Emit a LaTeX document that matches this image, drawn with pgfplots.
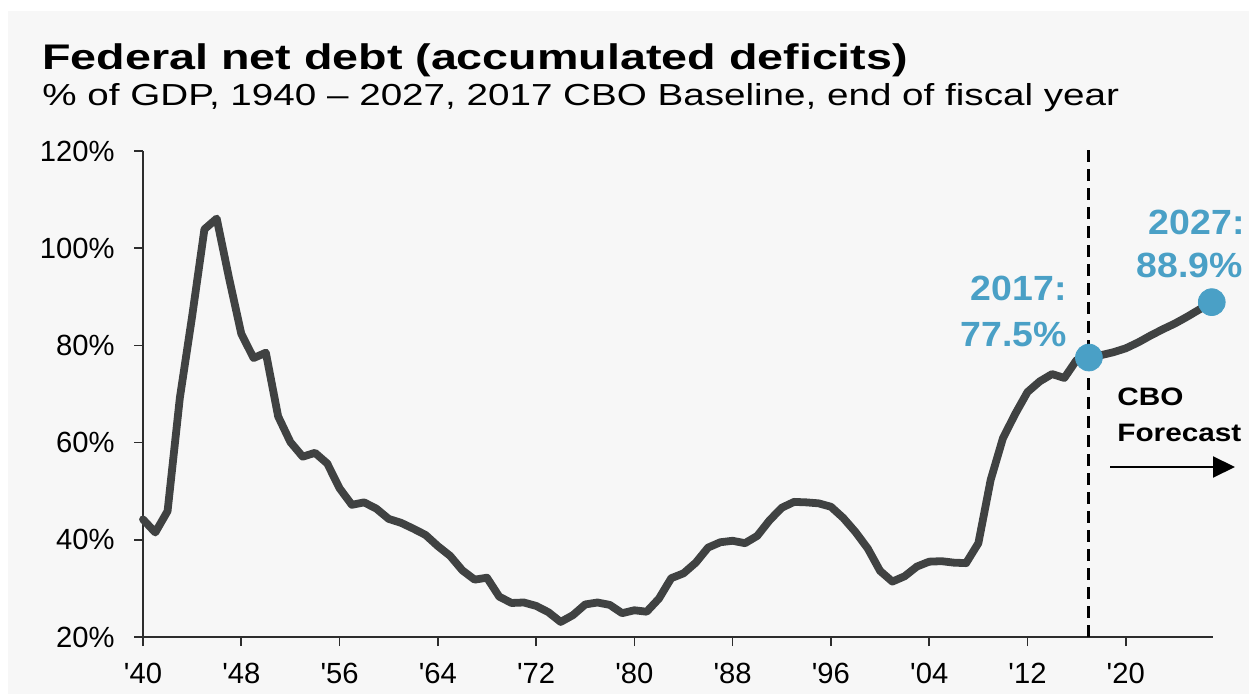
\documentclass[border=0pt]{standalone}
\usepackage{pgfplots}
\pgfplotsset{compat=1.18}
\usetikzlibrary{arrows.meta}
\usepackage{graphicx}
\usepackage{fontspec}
\setmainfont{Liberation Sans}
\definecolor{bgc}{RGB}{247,247,247}
\definecolor{linec}{RGB}{64,66,66}
\definecolor{dotc}{RGB}{74,160,198}
\definecolor{axc}{RGB}{45,45,45}
\begin{document}
\begin{tikzpicture}
\path[use as bounding box] (0,0) rectangle (624.5bp,347bp);
\fill[white] (0,0) rectangle (624.5bp,347bp);
\fill[bgc] (4bp,0) rectangle (624.5bp,341.5bp);
\node[anchor=base west, inner sep=0pt] at (21bp,312bp)
  {\scalebox{1.31}[1]{\fontsize{17.8bp}{20bp}\selectfont\bfseries Federal net debt (accumulated deficits)}};
\node[anchor=base west, inner sep=0pt] at (21bp,294bp)
  {\scalebox{1.27}[1]{\fontsize{15.2bp}{18bp}\selectfont \% of GDP, 1940 -- 2027, 2017 CBO Baseline, end of fiscal year}};
\begin{axis}[
  at={(71.5bp,28.5bp)}, anchor=south west,
  scale only axis, width=535bp, height=243bp,
  xmin=1940, xmax=2027.1, ymin=20, ymax=120,
  axis lines=left,
  x axis line style={-, axc, line width=0.9bp},
  y axis line style={-, axc, line width=0.7bp},
  tick align=outside, major tick length=4.5bp,
  tick style={axc, line width=0.8bp},
  xtick={1940,1948,1956,1964,1972,1980,1988,1996,2004,2012,2020},
  xticklabels={\textquotesingle40,\textquotesingle48,\textquotesingle56,\textquotesingle64,\textquotesingle72,\textquotesingle80,\textquotesingle88,\textquotesingle96,\textquotesingle04,\textquotesingle12,\textquotesingle20},
  ytick={20,40,60,80,100,120},
  yticklabels={20\%,40\%,60\%,80\%,100\%,120\%},
  xticklabel style={font=\fontsize{14.6bp}{16bp}\selectfont, inner sep=0pt, anchor=north, yshift=-8.5bp},
  yticklabel style={font=\fontsize{14.6bp}{16bp}\selectfont, inner sep=0pt, anchor=east, xshift=-9.5bp},
  clip=false,
]
\addplot[linec, line width=3.9bp, line join=round, line cap=round] coordinates {
(1940,44.2) (1941,41.5) (1942,45.9) (1943,69.2) (1944,86.0) (1945,103.9) (1946,106.1)
(1947,93.9) (1948,82.4) (1949,77.4) (1950,78.5) (1951,65.4) (1952,60.1) (1953,57.1)
(1954,57.9) (1955,55.7) (1956,50.6) (1957,47.2) (1958,47.7) (1959,46.4) (1960,44.3)
(1961,43.5) (1962,42.3) (1963,41.0) (1964,38.7) (1965,36.7) (1966,33.7) (1967,31.8)
(1968,32.2) (1969,28.3) (1970,27.0) (1971,27.1) (1972,26.4) (1973,25.1) (1974,23.1)
(1975,24.5) (1976,26.7) (1977,27.1) (1978,26.6) (1979,24.9) (1980,25.5) (1981,25.2)
(1982,27.9) (1983,32.1) (1984,33.1) (1985,35.3) (1986,38.4) (1987,39.5) (1988,39.8)
(1989,39.3) (1990,40.8) (1991,44.0) (1992,46.6) (1993,47.8) (1994,47.7) (1995,47.5)
(1996,46.8) (1997,44.5) (1998,41.6) (1999,38.2) (2000,33.6) (2001,31.4) (2002,32.5)
(2003,34.5) (2004,35.5) (2005,35.6) (2006,35.3) (2007,35.2) (2008,39.3) (2009,52.3)
(2010,60.9) (2011,65.9) (2012,70.4) (2013,72.6) (2014,74.1) (2015,73.3) (2016,77.0)
(2017,77.5) (2018,78.0) (2019,78.6) (2020,79.4) (2021,80.6) (2022,82.0) (2023,83.3)
(2024,84.5) (2025,85.9) (2026,87.4) (2027,88.9)
};
\draw[black, line width=1.5bp, dash pattern=on 6bp off 3.5bp] (axis cs:2017,20) -- (axis cs:2017,121.5);
\addplot[only marks, mark=*, mark size=6.7bp, color=dotc, mark options={draw=dotc, fill=dotc}] coordinates {(2017,77.5) (2027,88.9)};
\end{axis}
\node[anchor=base east, inner sep=0pt, text=dotc] at (533.5bp,196.5bp)
  {\scalebox{1.07}[1]{\fontsize{17.5bp}{20bp}\selectfont\bfseries 2017:}};
\node[anchor=base east, inner sep=0pt, text=dotc] at (533.5bp,173.5bp)
  {\scalebox{1.07}[1]{\fontsize{17.5bp}{20bp}\selectfont\bfseries 77.5\%}};
\node[anchor=base east, inner sep=0pt, text=dotc] at (622.5bp,229.5bp)
  {\scalebox{1.07}[1]{\fontsize{17.5bp}{20bp}\selectfont\bfseries 2027:}};
\node[anchor=base east, inner sep=0pt, text=dotc] at (621.5bp,208bp)
  {\scalebox{1.07}[1]{\fontsize{17.5bp}{20bp}\selectfont\bfseries 88.9\%}};
\node[anchor=base west, inner sep=0pt] at (558.5bp,144bp)
  {\scalebox{1.18}[1]{\fontsize{12.6bp}{14bp}\selectfont\bfseries CBO}};
\node[anchor=base west, inner sep=0pt] at (558.5bp,126bp)
  {\scalebox{1.18}[1]{\fontsize{12.6bp}{14bp}\selectfont\bfseries Forecast}};
\draw[black, line width=1bp, -{Triangle[length=11bp,width=10.5bp]}] (555bp,113.5bp) -- (617.5bp,113.5bp);
\end{tikzpicture}
\end{document}
